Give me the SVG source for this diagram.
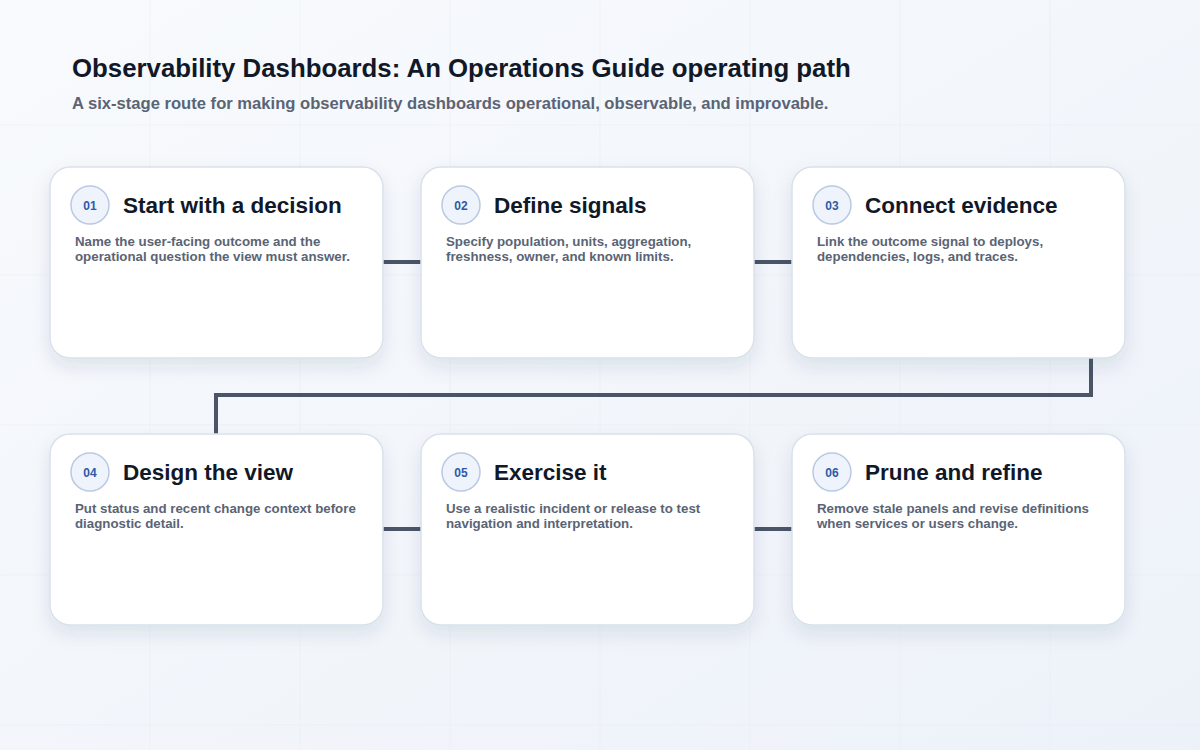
<svg xmlns="http://www.w3.org/2000/svg" width="1200" height="750" viewBox="0 0 1200 750">
<defs>
<linearGradient id="bg" x1="0" y1="0" x2="1" y2="1">
<stop offset="0" stop-color="#f8fafd"/>
<stop offset="1" stop-color="#edf2f9"/>
</linearGradient>
<filter id="sh" x="-20%" y="-20%" width="140%" height="150%">
<feDropShadow dx="0" dy="8" stdDeviation="9" flood-color="#1e2a44" flood-opacity="0.10"/>
</filter>
</defs>
<style>
.card{fill:#ffffff;stroke:#d9e1ec;stroke-width:1.5;filter:url(#sh)}
.badge{fill:#eef3fc;stroke:#b9c9e2;stroke-width:1.5}
.num{font-family:"Liberation Sans",Arial,sans-serif;font-weight:700;font-size:12px;fill:#2f5aa8;text-anchor:middle}
.ttl{font-family:"Liberation Sans",Arial,sans-serif;font-weight:700;font-size:22.5px;fill:#111827}
.dsc{font-family:"Liberation Sans",Arial,sans-serif;font-weight:700;font-size:13.3px;fill:#5a6475}
.con{fill:none;stroke:#4a5568;stroke-width:4}
.grid{stroke:#e3e9f2;stroke-width:1}
</style>
<rect width="1200" height="750" fill="url(#bg)"/>
<g opacity="0.4">
<line class="grid" x1="150" y1="0" x2="150" y2="750"/>
<line class="grid" x1="300" y1="0" x2="300" y2="750"/>
<line class="grid" x1="450" y1="0" x2="450" y2="750"/>
<line class="grid" x1="600" y1="0" x2="600" y2="750"/>
<line class="grid" x1="750" y1="0" x2="750" y2="750"/>
<line class="grid" x1="900" y1="0" x2="900" y2="750"/>
<line class="grid" x1="1050" y1="0" x2="1050" y2="750"/>
<line class="grid" x1="0" y1="125" x2="1200" y2="125"/>
<line class="grid" x1="0" y1="275" x2="1200" y2="275"/>
<line class="grid" x1="0" y1="425" x2="1200" y2="425"/>
<line class="grid" x1="0" y1="575" x2="1200" y2="575"/>
<line class="grid" x1="0" y1="725" x2="1200" y2="725"/>
</g>
<text x="72" y="77" font-family="Liberation Sans, Arial, sans-serif" font-weight="700" font-size="25.8" fill="#111827">Observability Dashboards: An Operations Guide operating path</text>
<text x="72" y="109" font-family="Liberation Sans, Arial, sans-serif" font-weight="700" font-size="16.6" fill="#5a6475">A six-stage route for making observability dashboards operational, observable, and improvable.</text>
<g id="connectors">
<line class="con" x1="383" y1="262" x2="421" y2="262"/>
<line class="con" x1="754" y1="262" x2="792" y2="262"/>
<polyline class="con" points="1091,358 1091,395 216,395 216,434"/>
<line class="con" x1="383" y1="529" x2="421" y2="529"/>
<line class="con" x1="754" y1="529" x2="792" y2="529"/>
</g>
<g id="node1">
<rect class="card" x="50" y="167" width="333" height="191" rx="20"/>
<circle class="badge" cx="90" cy="205" r="19"/>
<text class="num" x="90" y="210">01</text>
<text class="ttl" x="123" y="213">Start with a decision</text>
<text class="dsc" x="75" y="246">Name the user-facing outcome and the</text>
<text class="dsc" x="75" y="261">operational question the view must answer.</text>
</g>
<g id="node2">
<rect class="card" x="421" y="167" width="333" height="191" rx="20"/>
<circle class="badge" cx="461" cy="205" r="19"/>
<text class="num" x="461" y="210">02</text>
<text class="ttl" x="494" y="213">Define signals</text>
<text class="dsc" x="446" y="246">Specify population, units, aggregation,</text>
<text class="dsc" x="446" y="261">freshness, owner, and known limits.</text>
</g>
<g id="node3">
<rect class="card" x="792" y="167" width="333" height="191" rx="20"/>
<circle class="badge" cx="832" cy="205" r="19"/>
<text class="num" x="832" y="210">03</text>
<text class="ttl" x="865" y="213">Connect evidence</text>
<text class="dsc" x="817" y="246">Link the outcome signal to deploys,</text>
<text class="dsc" x="817" y="261">dependencies, logs, and traces.</text>
</g>
<g id="node4">
<rect class="card" x="50" y="434" width="333" height="191" rx="20"/>
<circle class="badge" cx="90" cy="472" r="19"/>
<text class="num" x="90" y="477">04</text>
<text class="ttl" x="123" y="480">Design the view</text>
<text class="dsc" x="75" y="513">Put status and recent change context before</text>
<text class="dsc" x="75" y="528">diagnostic detail.</text>
</g>
<g id="node5">
<rect class="card" x="421" y="434" width="333" height="191" rx="20"/>
<circle class="badge" cx="461" cy="472" r="19"/>
<text class="num" x="461" y="477">05</text>
<text class="ttl" x="494" y="480">Exercise it</text>
<text class="dsc" x="446" y="513">Use a realistic incident or release to test</text>
<text class="dsc" x="446" y="528">navigation and interpretation.</text>
</g>
<g id="node6">
<rect class="card" x="792" y="434" width="333" height="191" rx="20"/>
<circle class="badge" cx="832" cy="472" r="19"/>
<text class="num" x="832" y="477">06</text>
<text class="ttl" x="865" y="480">Prune and refine</text>
<text class="dsc" x="817" y="513">Remove stale panels and revise definitions</text>
<text class="dsc" x="817" y="528">when services or users change.</text>
</g>
</svg>
